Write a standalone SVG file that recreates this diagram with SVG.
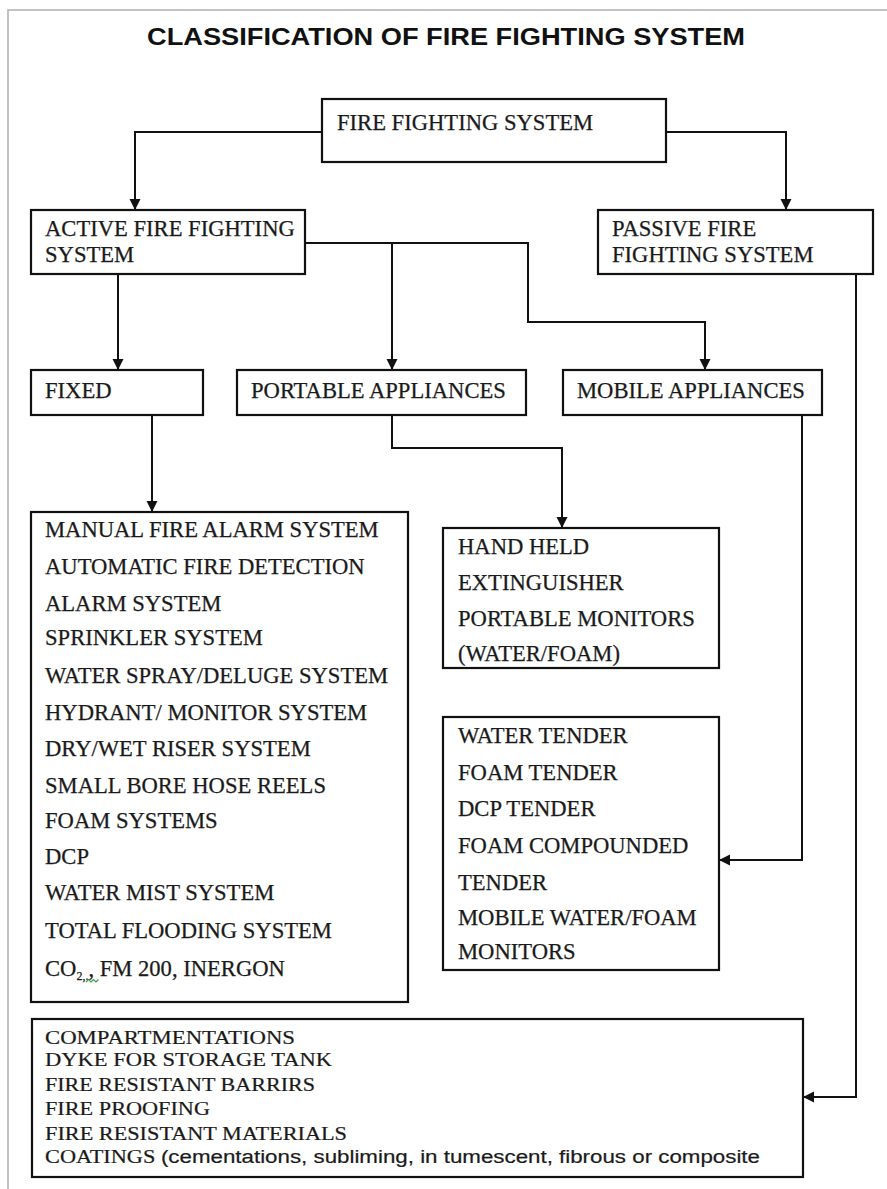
<svg xmlns="http://www.w3.org/2000/svg" width="887" height="1189" viewBox="0 0 887 1189">
  <style>
    .box { fill: #ffffff; stroke: #111111; stroke-width: 2.2; }
    .lbl { font-family: "Liberation Serif", "Times New Roman", serif; font-size: 22.6px; fill: #1a1a1a; stroke: #1a1a1a; stroke-width: 0.25; }
    .sm { font-family: "Liberation Serif", "Times New Roman", serif; font-size: 18px; fill: #1a1a1a; stroke: #1a1a1a; stroke-width: 0.2; }
    .sans { font-family: "Liberation Sans", Arial, sans-serif; }
    .title { font-family: "Liberation Sans", Arial, sans-serif; font-weight: bold; font-size: 24px; fill: #111111; }
    .wire { fill: none; stroke: #111111; stroke-width: 2; marker-end: url(#arrow); }
    .page { fill: none; stroke: #b0b0b0; stroke-width: 1.5; }
  </style>
  <defs>
    <marker id="arrow" markerUnits="userSpaceOnUse" markerWidth="12" markerHeight="12" refX="11" refY="6" orient="auto">
      <path d="M0,0.5 L11,6 L0,11.5 z" fill="#111111"/>
    </marker>
  </defs>

  <rect width="887" height="1189" fill="#ffffff"/>
  <!-- page frame -->
  <path class="page" d="M8,1189 V10 H887"/>

  <text class="title" x="147" y="45" textLength="598" lengthAdjust="spacingAndGlyphs">CLASSIFICATION OF FIRE FIGHTING SYSTEM</text>

  <!-- connectors -->
  <g id="connectors">
    <path class="wire" d="M322,132 H135 V210"/>
    <path class="wire" d="M666,132 H786 V210"/>
    <path class="wire" d="M118,274 V370"/>
    <path class="wire" d="M305,243 H392 V370"/>
    <path class="wire" d="M392,243 H528 V322 H705 V370"/>
    <path class="wire" d="M152,414 V512"/>
    <path class="wire" d="M392,414 V448 H562 V528"/>
    <path class="wire" d="M802,414 V860 H719"/>
    <path class="wire" d="M856,274 V1097 H803"/>
  </g>

  <g id="fire-fighting-system">
    <rect class="box" x="322" y="99" width="344" height="63"/>
    <text class="lbl" x="337" y="130">FIRE FIGHTING SYSTEM</text>
  </g>

  <g id="active">
    <rect class="box" x="31" y="210" width="274" height="64"/>
    <text class="lbl" x="45" y="236">ACTIVE FIRE FIGHTING</text>
    <text class="lbl" x="45" y="262">SYSTEM</text>
  </g>

  <g id="passive">
    <rect class="box" x="598" y="210" width="275" height="64"/>
    <text class="lbl" x="612" y="236">PASSIVE FIRE</text>
    <text class="lbl" x="612" y="262">FIGHTING SYSTEM</text>
  </g>

  <g id="fixed">
    <rect class="box" x="31" y="370" width="172" height="45"/>
    <text class="lbl" x="45" y="398">FIXED</text>
  </g>

  <g id="portable">
    <rect class="box" x="237" y="370" width="289" height="45"/>
    <text class="lbl" x="251" y="398">PORTABLE APPLIANCES</text>
  </g>

  <g id="mobile">
    <rect class="box" x="563" y="370" width="259" height="45"/>
    <text class="lbl" x="577" y="398">MOBILE APPLIANCES</text>
  </g>

  <g id="fixed-systems">
    <rect class="box" x="31" y="512" width="377" height="490"/>
    <text class="lbl" x="45" y="537">MANUAL FIRE ALARM SYSTEM</text>
    <text class="lbl" x="45" y="574">AUTOMATIC FIRE DETECTION</text>
    <text class="lbl" x="45" y="611">ALARM SYSTEM</text>
    <text class="lbl" x="45" y="645">SPRINKLER SYSTEM</text>
    <text class="lbl" x="45" y="683">WATER SPRAY/DELUGE SYSTEM</text>
    <text class="lbl" x="45" y="720">HYDRANT/ MONITOR SYSTEM</text>
    <text class="lbl" x="45" y="756">DRY/WET RISER SYSTEM</text>
    <text class="lbl" x="45" y="793">SMALL BORE HOSE REELS</text>
    <text class="lbl" x="45" y="828">FOAM SYSTEMS</text>
    <text class="lbl" x="45" y="864">DCP</text>
    <text class="lbl" x="45" y="900">WATER MIST SYSTEM</text>
    <text class="lbl" x="45" y="938">TOTAL FLOODING SYSTEM</text>
    <text class="lbl" x="45" y="976">CO<tspan font-size="12" dy="4">2,.</tspan><tspan dy="-4">, FM 200, INERGON</tspan></text>
    <path d="M86,982 l2.5,-2.5 l2.5,2.5 l2.5,-2.5 l2.5,2.5 l2.5,-2.5" fill="none" stroke="#3aa13a" stroke-width="1.2"/>
  </g>

  <g id="portable-items">
    <rect class="box" x="443" y="528" width="276" height="140"/>
    <text class="lbl" x="458" y="554">HAND HELD</text>
    <text class="lbl" x="458" y="590">EXTINGUISHER</text>
    <text class="lbl" x="458" y="626">PORTABLE MONITORS</text>
    <text class="lbl" x="458" y="661">(WATER/FOAM)</text>
  </g>

  <g id="mobile-items">
    <rect class="box" x="443" y="717" width="276" height="253"/>
    <text class="lbl" x="458" y="743">WATER TENDER</text>
    <text class="lbl" x="458" y="780">FOAM TENDER</text>
    <text class="lbl" x="458" y="816">DCP TENDER</text>
    <text class="lbl" x="458" y="853">FOAM COMPOUNDED</text>
    <text class="lbl" x="458" y="890">TENDER</text>
    <text class="lbl" x="458" y="925">MOBILE WATER/FOAM</text>
    <text class="lbl" x="458" y="959">MONITORS</text>
  </g>

  <g id="passive-items">
    <rect class="box" x="32" y="1019" width="771" height="158"/>
    <text class="sm" x="45" y="1044" textLength="250" lengthAdjust="spacingAndGlyphs">COMPARTMENTATIONS</text>
    <text class="sm" x="45" y="1066" textLength="287" lengthAdjust="spacingAndGlyphs">DYKE FOR STORAGE TANK</text>
    <text class="sm" x="45" y="1091" textLength="270" lengthAdjust="spacingAndGlyphs">FIRE RESISTANT BARRIRS</text>
    <text class="sm" x="45" y="1115" textLength="165" lengthAdjust="spacingAndGlyphs">FIRE PROOFING</text>
    <text class="sm" x="45" y="1140" textLength="302" lengthAdjust="spacingAndGlyphs">FIRE RESISTANT MATERIALS</text>
    <text class="sm" x="45" y="1163" textLength="715" lengthAdjust="spacingAndGlyphs">COATINGS <tspan class="sans">(cementations, subliming, in tumescent, fibrous or composite</tspan></text>
  </g>
</svg>
